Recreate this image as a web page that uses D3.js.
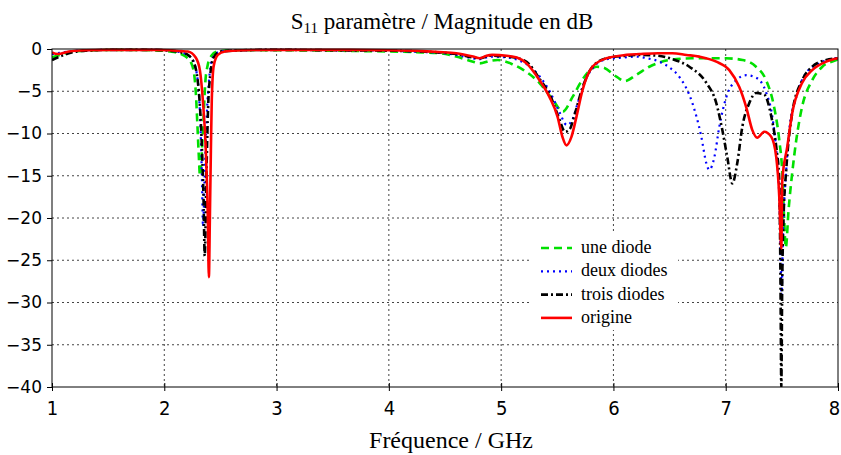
<!DOCTYPE html>
<html><head><meta charset="utf-8">
<script src="https://cdn.jsdelivr.net/npm/d3@7"></script>
<style>
html,body{margin:0;padding:0;background:#fff;}
svg{display:block;}
</style></head>
<body>
<svg id="chart" width="841" height="455"></svg>
<script>
const xTicks = [1,2,3,4,5,6,7,8];
const yTicks = [0,-5,-10,-15,-20,-25,-30,-35,-40];
const seriesNames = ["une diode","deux diodes","trois diodes","origine"];

const uneDiode = [[1.0,-1.0],[1.05,-0.8],[1.15,-0.4],[1.3,-0.2],[1.6,-0.1],[1.9,-0.15],[2.05,-0.3],[2.15,-0.6],[2.2,-1.0],[2.25,-2],[2.28,-5],[2.295,-9],[2.307,-12.5],[2.318,-15],[2.335,-12],[2.35,-8],[2.365,-4],[2.385,-2],[2.42,-0.8],[2.47,-0.3],[2.6,-0.15],[3.0,-0.15],[3.5,-0.2],[4.0,-0.3],[4.3,-0.4],[4.45,-0.5],[4.6,-0.9],[4.75,-1.5],[4.81,-1.7],[4.9,-1.4],[4.97,-1.3],[5.1,-1.8],[5.2,-2.5],[5.34,-4],[5.46,-6],[5.55,-7.4],[5.635,-5.7],[5.72,-3.7],[5.85,-2.1],[5.91,-2.2],[6.03,-3.3],[6.1,-3.8],[6.2,-3.1],[6.32,-2.1],[6.41,-1.6],[6.5,-1.3],[6.7,-1.1],[7.0,-1.1],[7.15,-1.3],[7.27,-2.1],[7.36,-3.7],[7.43,-6.8],[7.477,-10.8],[7.504,-14.7],[7.52,-20],[7.535,-23.5],[7.56,-19],[7.592,-14.7],[7.628,-10.8],[7.681,-6.8],[7.77,-3.7],[7.86,-2.1],[7.984,-1.3],[8.0,-1.2]];

const deuxDiodes = [[1.0,-0.6],[1.05,-0.5],[1.15,-0.3],[1.3,-0.15],[1.6,-0.1],[1.9,-0.1],[2.05,-0.2],[2.15,-0.4],[2.22,-0.8],[2.26,-1.5],[2.30,-4],[2.322,-9],[2.335,-15],[2.345,-21],[2.36,-15],[2.378,-8],[2.40,-3.5],[2.42,-1.5],[2.45,-0.7],[2.5,-0.3],[2.7,-0.15],[3.0,-0.1],[3.5,-0.15],[4.0,-0.2],[4.3,-0.35],[4.45,-0.45],[4.6,-0.7],[4.75,-1.1],[4.81,-1.2],[4.9,-0.9],[5.05,-1.0],[5.15,-1.3],[5.25,-2.0],[5.34,-3.2],[5.44,-5.2],[5.52,-7.5],[5.585,-9],[5.625,-8.6],[5.68,-6.5],[5.74,-4],[5.82,-2.2],[5.94,-1.2],[6.1,-1.0],[6.2,-0.9],[6.3,-1.1],[6.41,-1.5],[6.5,-2.2],[6.587,-3.3],[6.703,-6.4],[6.783,-10.4],[6.827,-13.5],[6.854,-14.3],[6.899,-12.8],[6.943,-9.2],[7.005,-5.7],[7.094,-3.7],[7.183,-3.1],[7.272,-3.4],[7.361,-5.2],[7.415,-8],[7.459,-13.5],[7.477,-17.5],[7.49,-25],[7.497,-29.5],[7.51,-22],[7.539,-14.3],[7.566,-9.6],[7.628,-5.7],[7.717,-2.8],[7.833,-1.7],[7.984,-1.1],[8.0,-1.1]];

const troisDiodes = [[1.0,-1.3],[1.05,-1.0],[1.15,-0.5],[1.3,-0.2],[1.6,-0.1],[1.9,-0.1],[2.05,-0.2],[2.15,-0.4],[2.22,-0.8],[2.26,-1.5],[2.30,-4],[2.33,-10],[2.35,-18],[2.36,-24.5],[2.375,-15],[2.39,-7],[2.41,-3],[2.44,-1],[2.5,-0.3],[2.7,-0.15],[3.0,-0.1],[3.5,-0.15],[4.0,-0.2],[4.3,-0.3],[4.45,-0.4],[4.6,-0.6],[4.75,-1.0],[4.81,-1.1],[4.9,-0.8],[5.05,-0.9],[5.15,-1.1],[5.25,-1.8],[5.34,-3.5],[5.44,-5.6],[5.51,-8],[5.57,-9.8],[5.61,-9.5],[5.66,-7.5],[5.724,-4.6],[5.813,-2.1],[5.938,-1.1],[6.116,-0.8],[6.231,-0.7],[6.4,-0.8],[6.525,-1.2],[6.676,-2.1],[6.827,-4],[6.916,-6.4],[6.97,-9.6],[7.014,-12.8],[7.059,-15.9],[7.103,-13.5],[7.148,-9.2],[7.21,-6.4],[7.272,-5.2],[7.343,-5.4],[7.406,-8],[7.45,-11.6],[7.477,-15.5],[7.488,-28],[7.495,-40],[7.503,-28],[7.515,-20],[7.539,-14.3],[7.592,-7.6],[7.681,-3.7],[7.77,-2.1],[7.895,-1.3],[8.0,-1.1]];

const origine = [[1.0,-0.4],[1.05,-0.6],[1.15,-0.3],[1.3,-0.15],[1.5,-0.1],[1.7,-0.1],[1.9,-0.1],[2.05,-0.15],[2.15,-0.25],[2.21,-0.3],[2.28,-1.0],[2.317,-2.5],[2.343,-6],[2.37,-12],[2.388,-20],[2.397,-27],[2.406,-20],[2.415,-12],[2.423,-6],[2.44,-2],[2.477,-0.7],[2.54,-0.3],[2.7,-0.15],[3.0,-0.1],[3.5,-0.1],[4.0,-0.15],[4.3,-0.25],[4.45,-0.35],[4.6,-0.5],[4.75,-0.9],[4.81,-1.1],[4.87,-0.8],[4.92,-0.7],[5.05,-0.8],[5.14,-1.0],[5.226,-1.7],[5.342,-3.7],[5.431,-5.7],[5.502,-8],[5.546,-10.4],[5.582,-11.4],[5.626,-10.4],[5.671,-8],[5.724,-4.9],[5.813,-2.1],[5.938,-1.1],[6.116,-0.7],[6.231,-0.6],[6.4,-0.5],[6.525,-0.5],[6.65,-0.7],[6.765,-0.9],[6.916,-1.5],[7.032,-2.5],[7.121,-4.5],[7.183,-6.9],[7.237,-9.6],[7.281,-10.5],[7.343,-9.8],[7.406,-10.4],[7.45,-12.8],[7.477,-17.5],[7.495,-23.6],[7.504,-15.5],[7.548,-11.6],[7.592,-7.6],[7.681,-4],[7.77,-2.5],[7.895,-1.5],[8.0,-1.1]];

const W = 841, H = 455;
const margin = {left:52, right:3, top:49, bottom:68};
const svg = d3.select("#chart");
const x = d3.scaleLinear().domain([1,8]).range([margin.left, W - margin.right]);
const y = d3.scaleLinear().domain([-40,0]).range([H - margin.bottom, margin.top]);

// grid
const grid = svg.append("g");
grid.selectAll("line.v").data(xTicks.slice(1,-1)).join("line")
  .attr("x1", d=>x(d)).attr("x2", d=>x(d)).attr("y1", y(0)).attr("y2", y(-40))
  .attr("stroke","#444").attr("stroke-width",1).attr("stroke-dasharray","2,3");
grid.selectAll("line.h").data(yTicks.slice(1,-1)).join("line")
  .attr("y1", d=>y(d)).attr("y2", d=>y(d)).attr("x1", x(1)).attr("x2", x(8))
  .attr("stroke","#444").attr("stroke-width",1).attr("stroke-dasharray","2,3");

// clip
svg.append("clipPath").attr("id","clip").append("rect")
  .attr("x", x(1)).attr("y", y(0)-2).attr("width", x(8)-x(1)).attr("height", y(-40)-y(0)+2);

const line = d3.line().x(d=>x(d[0])).y(d=>y(d[1])).curve(d3.curveMonotoneX);
const styles = [
  {data: uneDiode, color:"#00e000", w:2.6, dash:"8,5"},
  {data: deuxDiodes, color:"#0000ff", w:2.2, dash:"2,4"},
  {data: troisDiodes, color:"#000000", w:2.6, dash:"7,3,2,3"},
  {data: origine, color:"#ff0000", w:2.6, dash:null}
];
const plot = svg.append("g").attr("clip-path","url(#clip)");
styles.forEach(s=>{
  plot.append("path").datum(s.data).attr("d", line)
    .attr("fill","none").attr("stroke", s.color).attr("stroke-width", s.w)
    .attr("stroke-dasharray", s.dash).attr("stroke-linejoin","round");
});

// frame
svg.append("rect").attr("x", x(1)).attr("y", y(0)).attr("width", x(8)-x(1)).attr("height", y(-40)-y(0))
  .attr("fill","none").attr("stroke","#000").attr("stroke-width",1);

// axes
const xAxis = svg.append("g").attr("transform",`translate(0,${y(-40)})`)
  .call(d3.axisBottom(x).tickValues(xTicks).tickFormat(d3.format("d")).tickSize(4).tickPadding(10));
xAxis.select(".domain").remove();
xAxis.selectAll(".tick line").attr("y1",-4).attr("y2",4);
xAxis.selectAll("text").attr("font-family","'DejaVu Sans Condensed','Liberation Sans',sans-serif")
  .attr("font-size",20).attr("fill","#000")
  .attr("dx", d => d === 8 ? -4 : 0);

const yAxis = svg.append("g").attr("transform",`translate(${x(1)},0)`)
  .call(d3.axisLeft(y).tickValues(yTicks).tickFormat(d3.format("d")).tickSize(5).tickPadding(5));
yAxis.select(".domain").remove();
yAxis.selectAll("text").attr("font-family","'DejaVu Sans',sans-serif")
  .attr("font-size",17).attr("fill","#000");

// title
const title = svg.append("text").attr("x", 442).attr("y", 29).attr("text-anchor","middle")
  .attr("font-family","'Liberation Serif','Times New Roman',serif").attr("font-size",23).attr("fill","#000");
title.append("tspan").text("S");
title.append("tspan").text("11").attr("font-size",15).attr("dy",4);
title.append("tspan").text(" paramètre / Magnitude en dB").attr("dy",-4);

svg.append("text").attr("x", 451).attr("y", 448).attr("text-anchor","middle")
  .attr("font-family","'Liberation Serif','Times New Roman',serif").attr("font-size",24).attr("fill","#000")
  .text("Fréquence / GHz");

// legend
const lg = svg.append("g");
lg.append("rect").attr("x",530).attr("y",232).attr("width",148).attr("height",98).attr("fill","#fff");
styles.forEach((s,i)=>{
  const yy = 248 + i*23.3;
  lg.append("line").attr("x1",541).attr("x2",572).attr("y1",yy).attr("y2",yy)
    .attr("stroke",s.color).attr("stroke-width",s.w).attr("stroke-dasharray",s.dash);
  lg.append("text").attr("x",581).attr("y",yy+5)
    .attr("font-family","'Liberation Serif','Times New Roman',serif").attr("font-size",18).attr("fill","#000")
    .text(seriesNames[i]);
});
</script>
</body></html>
